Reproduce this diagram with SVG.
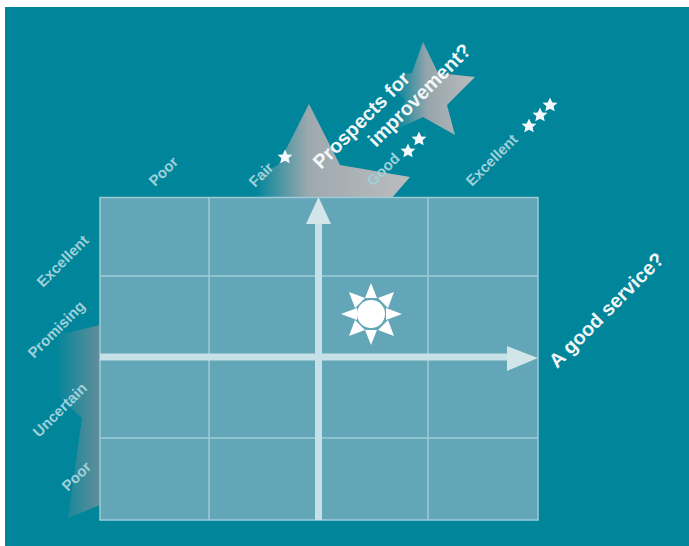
<svg xmlns="http://www.w3.org/2000/svg" width="689" height="546" viewBox="0 0 689 546">
<style>
.a{font-family:"Liberation Sans",Arial,sans-serif;font-size:15px;fill:#9fd0da;font-weight:700}
.b{font-family:"Liberation Sans",Arial,sans-serif;font-size:19.800px;fill:#f2f8f9;font-weight:700}
.g{stroke:#9ccbd6;stroke-width:1.500;fill:none}
.s{fill:#f4fafb}
</style>
<defs>
<linearGradient id="s1" gradientUnits="userSpaceOnUse" x1="255" y1="0" x2="410" y2="0"><stop offset="0" stop-color="#a0aab0" stop-opacity="0"/><stop offset="0.35" stop-color="#9ea9af"/><stop offset="1" stop-color="#bcbcbe"/></linearGradient>
<linearGradient id="s2" gradientUnits="userSpaceOnUse" x1="395" y1="0" x2="475" y2="0"><stop offset="0" stop-color="#8fa3ab" stop-opacity="0"/><stop offset="0.4" stop-color="#95a5ac"/><stop offset="1" stop-color="#bcbcbe"/></linearGradient>
<linearGradient id="s3" gradientUnits="userSpaceOnUse" x1="55" y1="0" x2="100" y2="0"><stop offset="0" stop-color="#5f8f9b" stop-opacity="0"/><stop offset="1" stop-color="#628e9a"/></linearGradient>
<polygon id="st" points="0,-7.500 2.300,-2.600 7.500,-2.200 3.600,1.200 4.700,6.300 0,3.700 -4.700,6.300 -3.600,1.200 -7.500,-2.200 -2.300,-2.600"/>
</defs>
<rect width="689" height="546" fill="#ffffff"/>
<rect x="5" y="7" width="684" height="539" fill="#00859a"/>
<g id="star-top"><polygon fill="url(#s2)" points="423,42 438,73 475,77 447,105 455,135 423,117 395,130 405,100 385,78 412,73"/></g>
<g id="star-mid"><polygon fill="url(#s1)" points="309,104 340,165 410,177 390,200 255,200 255,177 278,165"/></g>
<g id="star-left"><polygon fill="url(#s3)" points="100,325 58,335 50,390 82,418 68,518 100,505"/></g>
<g id="grid">
<rect x="100" y="197" width="438" height="323" fill="#62a6b7"/>
<path class="g" d="M100 197.500H538V520H100ZM209 197V520M428 197V520M100 276H538M100 438H538"/>
</g>
<g id="connectors">
<path d="M318.500 520V222" stroke="#c5e0e6" stroke-width="7" fill="none"/>
<polygon points="318.500,197 331,224 306,224" fill="#d2e6ea"/>
<path d="M100 357H510" stroke="#c5e0e6" stroke-width="7" fill="none"/>
<polygon points="538,358 507,346 507,371" fill="#d2e6ea"/>
</g>
<g id="sun">
<circle cx="371" cy="314" r="14" fill="#fff"/>
<g fill="#fff">
<polygon points="371,283 377,298 365,298"/>
<polygon points="371,345 377,330 365,330"/>
<polygon points="341,314 357,308 357,320"/>
<polygon points="402,314 386,308 386,320"/>
<polygon points="349,292 365,298 355,308"/>
<polygon points="394,292 378,298 388,308"/>
<polygon points="349,336 365,330 355,320"/>
<polygon points="394,336 378,330 388,320"/>
</g>
</g>
<g id="x-labels">
<text class="a" transform="translate(155,187) rotate(-45)">Poor</text>
<text class="a" transform="translate(255,188) rotate(-45)">Fair</text>
<text class="a" transform="translate(373,187) rotate(-45)">Good</text>
<text class="a" transform="translate(472,187) rotate(-45)">Excellent</text>
<use href="#st" class="s" x="285" y="157"/>
<use href="#st" class="s" x="408" y="151"/>
<use href="#st" class="s" x="419" y="139"/>
<use href="#st" class="s" x="529" y="126"/>
<use href="#st" class="s" x="540" y="115"/>
<use href="#st" class="s" x="550" y="105"/>
</g>
<g id="y-labels">
<text class="a" transform="translate(43,288) rotate(-45)">Excellent</text>
<text class="a" transform="translate(34,359) rotate(-45)">Promising</text>
<text class="a" transform="translate(39,438) rotate(-45)">Uncertain</text>
<text class="a" transform="translate(68,492) rotate(-45)">Poor</text>
</g>
<g id="titles">
<text class="b" transform="translate(321,170) rotate(-45)">Prospects for</text>
<text class="b" transform="translate(376,148) rotate(-45)">improvement?</text>
<text class="b" transform="translate(557,369) rotate(-45)">A good service?</text>
</g>
</svg>
